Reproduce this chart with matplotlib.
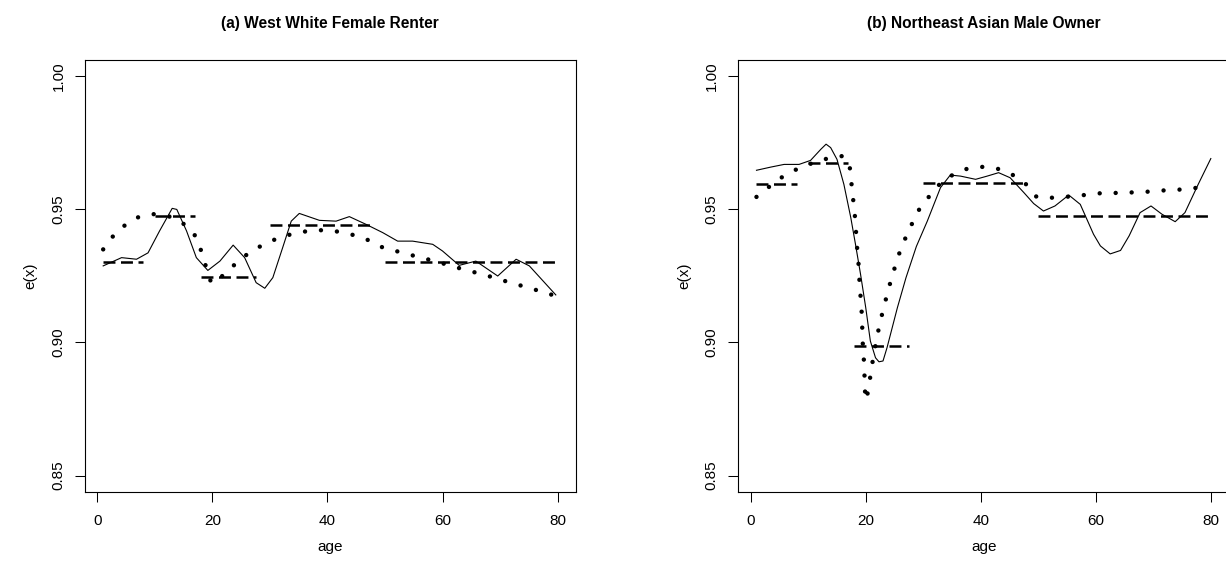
import matplotlib
matplotlib.use("Agg")
import matplotlib.pyplot as plt

plt.rcParams['font.family'] = ['Liberation Sans', 'DejaVu Sans']
plt.rcParams['lines.scale_dashes'] = False

# ---------------- Panel (a): West White Female Renter ----------------
a_title = "(a) West White Female Renter"
a_solid_age = [1.0, 4.2, 6.8, 8.8, 10.8, 13.0, 13.8, 15.5, 17.2, 19.2, 21.3, 23.6,
               25.6, 27.6, 29.1, 30.5, 32.2, 33.7, 35.1, 38.6, 41.5, 43.8, 46.7,
               49.6, 52.2, 54.8, 58.3, 60.0, 62.9, 65.8, 69.6, 72.8, 75.1, 79.7]
a_solid_val = [0.9287, 0.9318, 0.9312, 0.9336, 0.9418, 0.9503, 0.9499, 0.9418,
               0.9318, 0.9270, 0.9305, 0.9365, 0.9318, 0.9224, 0.9203, 0.9243,
               0.9355, 0.9455, 0.9484, 0.9458, 0.9455, 0.9472, 0.9443, 0.9412,
               0.9380, 0.9380, 0.9368, 0.9343, 0.9289, 0.9305, 0.9249, 0.9312,
               0.9287, 0.9178]
a_dot_age = [1.0, 2.7, 4.8, 7.2, 10.0, 12.8, 15.2, 17.1, 18.1, 18.9, 19.8, 21.4,
             23.5, 25.6, 28.0, 30.6, 33.2, 36.1, 38.8, 41.7, 44.5, 47.2, 49.7,
             52.4, 55.2, 57.9, 60.6, 63.3, 66.1, 68.8, 71.5, 74.3, 77.0, 80.0]
a_dot_val = [0.9349, 0.9398, 0.9440, 0.9471, 0.9482, 0.9471, 0.9442, 0.9398,
             0.9340, 0.9282, 0.9222, 0.9243, 0.9285, 0.9324, 0.9357, 0.9384,
             0.9403, 0.9416, 0.9421, 0.9416, 0.9403, 0.9383, 0.9355, 0.9340,
             0.9324, 0.9309, 0.9293, 0.9276, 0.9260, 0.9244, 0.9226, 0.9209,
             0.9192, 0.9172]
a_step_start = [1, 10, 18, 30, 50]
a_step_end = [8, 17, 27.5, 48, 80]
a_step_val = [0.9300, 0.9474, 0.9244, 0.9440, 0.9300]

# ---------------- Panel (b): Northeast Asian Male Owner ----------------
b_title = "(b) Northeast Asian Male Owner"
b_solid_age = [1.0, 3.5, 5.8, 8.4, 10.4, 12.2, 13.1, 13.9, 15.0, 16.2, 17.4, 18.2,
               19.1, 20.0, 20.8, 21.7, 22.3, 23.0, 23.7, 25.5, 27.0, 28.8, 30.7,
               33.0, 34.7, 36.5, 39.1, 41.1, 43.1, 45.1, 47.5, 49.2, 50.9, 52.9,
               55.3, 57.3, 59.6, 60.8, 62.5, 64.3, 65.8, 67.7, 69.6, 71.5, 73.8,
               75.5, 77.8, 80.0]
b_solid_val = [0.9646, 0.9658, 0.9668, 0.9668, 0.9683, 0.9725, 0.9744, 0.9731,
               0.9687, 0.9593, 0.9468, 0.9370, 0.9255, 0.9130, 0.9005, 0.8942,
               0.8927, 0.8930, 0.8980, 0.9130, 0.9243, 0.9360, 0.9455, 0.9581,
               0.9628, 0.9624, 0.9612, 0.9624, 0.9637, 0.9618, 0.9562, 0.9521,
               0.9493, 0.9512, 0.9553, 0.9518, 0.9406, 0.9362, 0.9332, 0.9345,
               0.9400, 0.9487, 0.9512, 0.9481, 0.9453, 0.9487, 0.9593, 0.9690]
b_dot_age = [1.0, 3.2, 5.5, 8.0, 10.6, 13.3, 16.1, 17.2, 17.5, 17.8, 18.1, 18.3,
             18.5, 18.75, 18.9, 19.1, 19.3, 19.4, 19.5, 19.7, 19.8, 19.9, 20.1,
             20.6, 21.0, 21.5, 22.0, 22.6, 23.3, 24.0, 24.8, 25.6, 26.6, 27.8,
             29.0, 30.7, 32.5, 34.7, 37.3, 40.1, 42.9, 45.6, 47.9, 49.7, 52.4,
             55.2, 58.0, 60.9, 63.7, 66.5, 69.4, 72.2, 75.1, 77.9, 80.0]
b_dot_val = [0.9546, 0.9584, 0.9621, 0.9650, 0.9672, 0.9690, 0.9700, 0.9662,
             0.9600, 0.9539, 0.9478, 0.9418, 0.9355, 0.9293, 0.9233, 0.9171,
             0.9110, 0.9049, 0.8986, 0.8925, 0.8865, 0.8803, 0.8782, 0.8842,
             0.8904, 0.8965, 0.9025, 0.9085, 0.9145, 0.9204, 0.9263, 0.9321,
             0.9377, 0.9434, 0.9490, 0.9539, 0.9587, 0.9624, 0.9650, 0.9659,
             0.9652, 0.9628, 0.9593, 0.9546, 0.9543, 0.9547, 0.9553, 0.9560,
             0.9561, 0.9563, 0.9566, 0.9571, 0.9574, 0.9581, 0.9585]
b_step_start = [1, 10, 18, 30, 50]
b_step_end = [8, 17, 27.5, 48, 79.5]
b_step_val = [0.9593, 0.9672, 0.8985, 0.9600, 0.9476]

x_ticks = [0, 20, 40, 60, 80]
y_ticks = [0.85, 0.90, 0.95, 1.00]
y_tick_labels = ["0.85", "0.90", "0.95", "1.00"]
x_label = "age"
y_label = "e(x)"

W, H = 1226, 569
fig = plt.figure(figsize=(W / 100, H / 100), dpi=100)

panels = [
    (a_title, a_solid_age, a_solid_val, a_dot_age, a_dot_val,
     a_step_start, a_step_end, a_step_val, 85.0),
    (b_title, b_solid_age, b_solid_val, b_dot_age, b_dot_val,
     b_step_start, b_step_end, b_step_val, 738.3),
]

ax_w = 490.7 / W
ax_b = 1 - 491.5 / H
ax_h = (491.5 - 60) / H

for (title, s_age, s_val, d_age, d_val, st_s, st_e, st_v, left_px) in panels:
    ax = fig.add_axes([left_px / W, ax_b, ax_w, ax_h])
    ax.plot(s_age, s_val, color='black', lw=0.8, solid_joinstyle='round')
    ax.plot(d_age, d_val, color='black', lw=3.2,
            linestyle=(0, (0.01, 11.5)), dash_capstyle='round')
    for x0, x1, v in zip(st_s, st_e, st_v):
        ax.plot([x0, x1], [v, v], color='black', lw=1.8,
                linestyle=(0, (8.6, 4.0)), dash_capstyle='butt')
    ax.set_xlim(-2.16, 83.16)
    ax.set_ylim(0.844, 1.006)
    ax.set_xticks(x_ticks)
    ax.set_yticks(y_ticks)
    ax.set_yticklabels(y_tick_labels)
    ax.tick_params(axis='both', direction='out', length=7, width=0.75,
                   labelsize=11, colors='black')
    ax.tick_params(axis='x', pad=9)
    ax.tick_params(axis='y', pad=7)
    for lab in ax.get_yticklabels():
        lab.set_rotation(90)
        lab.set_va('center')
    for sp in ax.spines.values():
        sp.set_linewidth(0.8)
        sp.set_color('black')
    ax.set_xlabel(x_label, fontsize=11, labelpad=9)
    ax.set_ylabel(y_label, fontsize=11, labelpad=10)
    ax.set_title(title, fontsize=11.2, fontweight='bold', pad=23)

fig.savefig("out.png", dpi=100)
